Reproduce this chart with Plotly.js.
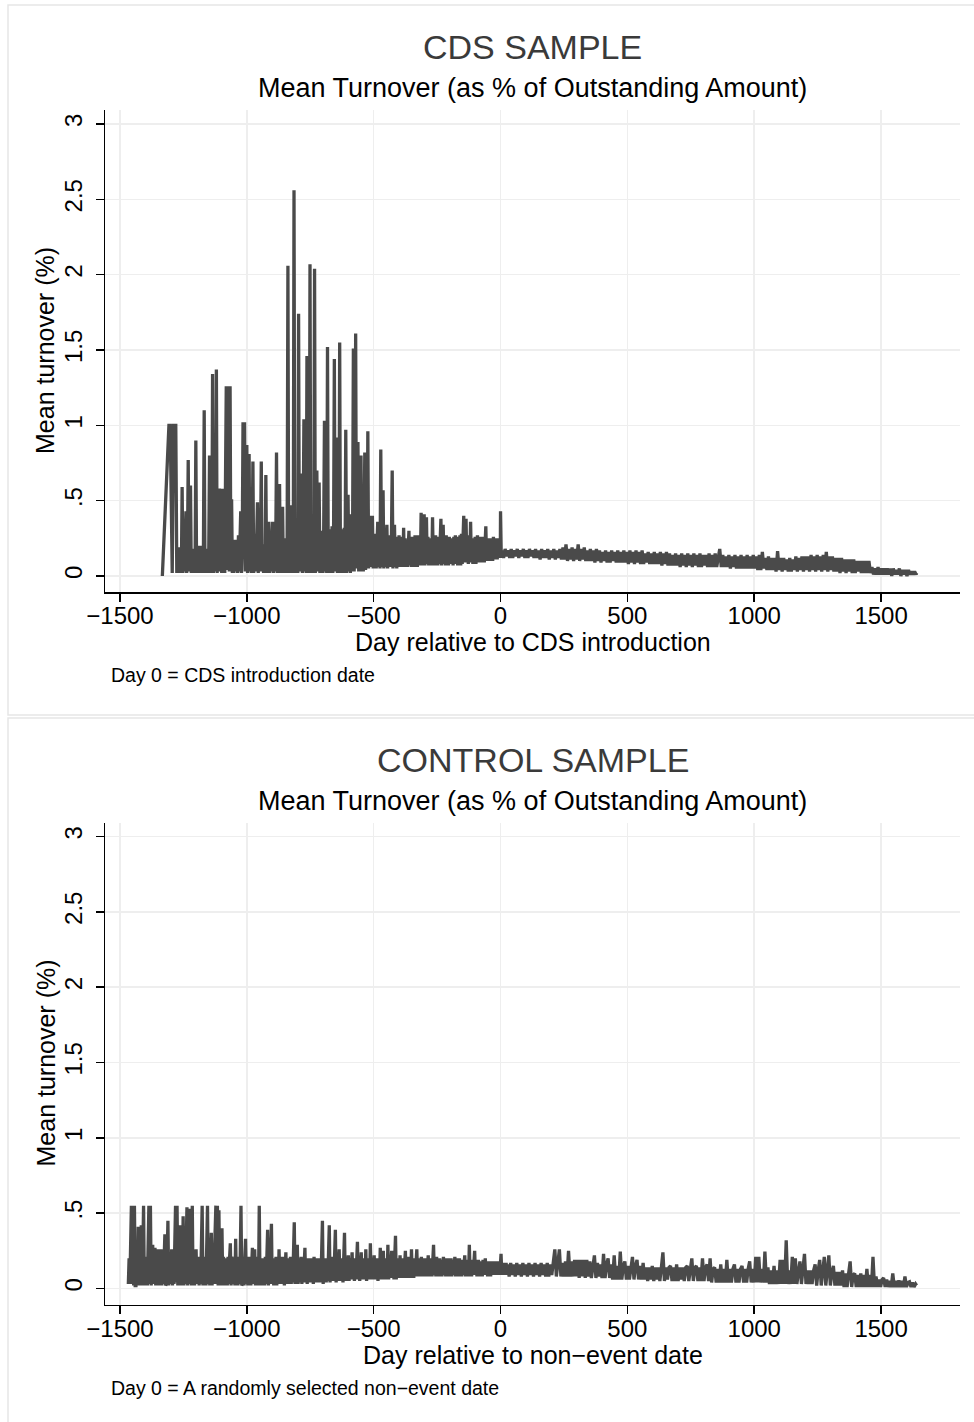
<!DOCTYPE html>
<html><head><meta charset="utf-8">
<script src="https://cdn.plot.ly/plotly-3.0.1.min.js"></script>
<style>html,body{margin:0;padding:0;background:#fff;} #chart{width:974px;height:1422px;}</style>
</head><body><div id="chart"></div>
<script>
// ---- DATA ----
const daysCDS = [
-1333,-1307,-1302,-1298,-1294,-1289,-1280,-1276,
-1273,-1270,-1267,-1264,-1261,-1258,-1255,-1252,-1249,-1246,
-1243,-1240,-1237,-1234,-1231,-1228,-1225,-1222,-1219,-1216,
-1213,-1210,-1207,-1204,-1201,-1198,-1195,-1192,-1189,-1186,
-1183,-1180,-1177,-1174,-1171,-1168,-1165,-1162,-1159,-1156,
-1153,-1150,-1147,-1144,-1141,-1138,-1135,-1132,-1129,-1126,
-1123,-1120,-1117,-1114,-1111,-1108,-1105,-1102,-1099,-1096,
-1093,-1090,-1087,-1084,-1081,-1078,-1075,-1072,-1069,-1066,
-1063,-1060,-1057,-1054,-1051,-1048,-1045,-1042,-1039,-1036,
-1033,-1030,-1027,-1024,-1021,-1018,-1015,-1012,-1009,-1006,
-1003,-1000,-997,-994,-991,-988,-985,-982,-979,-976,
-973,-970,-967,-964,-961,-958,-955,-952,-949,-946,
-943,-940,-937,-934,-931,-928,-925,-922,-919,-916,
-913,-910,-907,-904,-901,-898,-895,-892,-889,-886,
-883,-880,-877,-874,-871,-868,-865,-862,-859,-856,
-853,-850,-847,-844,-841,-838,-835,-832,-829,-826,
-823,-820,-817,-814,-811,-808,-805,-802,-799,-796,
-793,-790,-787,-784,-781,-778,-775,-772,-769,-766,
-763,-760,-757,-754,-751,-748,-745,-742,-739,-736,
-733,-730,-727,-724,-721,-718,-715,-712,-709,-706,
-703,-700,-697,-694,-691,-688,-685,-682,-679,-676,
-673,-670,-667,-664,-661,-658,-655,-652,-649,-646,
-643,-640,-637,-634,-631,-628,-625,-622,-619,-616,
-613,-610,-607,-604,-601,-598,-595,-592,-589,-586,
-583,-580,-577,-574,-571,-568,-565,-562,-559,-556,
-553,-550,-547,-544,-541,-538,-535,-532,-529,-526,
-523,-520,-517,-514,-511,-508,-505,-502,-499,-496,
-493,-490,-487,-484,-481,-478,-475,-472,-469,-466,
-463,-460,-457,-454,-451,-448,-445,-442,-439,-436,
-433,-430,-427,-424,-421,-418,-415,-412,-409,-406,
-403,-400,-397,-394,-391,-388,-385,-382,-379,-376,
-373,-370,-367,-364,-361,-358,-355,-352,-349,-346,
-343,-340,-337,-334,-331,-328,-325,-322,-319,-316,
-313,-310,-307,-304,-301,-298,-295,-292,-289,-286,
-283,-280,-277,-274,-271,-268,-265,-262,-259,-256,
-253,-250,-247,-244,-241,-238,-235,-232,-229,-226,
-223,-220,-217,-214,-211,-208,-205,-202,-199,-196,
-193,-190,-187,-184,-181,-178,-175,-172,-169,-166,
-163,-160,-157,-154,-151,-148,-145,-142,-139,-136,
-133,-130,-127,-124,-121,-118,-115,-112,-109,-106,
-103,-100,-97,-94,-91,-88,-85,-82,-79,-76,
-73,-70,-67,-64,-61,-58,-55,-52,-49,-46,
-43,-40,-37,-34,-31,-28,-25,-22,-19,-16,
-13,-10,-7,-4,-1,0,3,
6,12,18,24,30,36,42,48,54,60,
66,72,78,84,90,96,102,108,114,120,
126,132,138,144,150,156,162,168,174,180,
186,192,198,204,210,216,222,228,234,240,
246,252,258,264,270,276,282,288,294,300,
306,312,318,324,330,336,342,348,354,360,
366,372,378,384,390,396,402,408,414,420,
426,432,438,444,450,456,462,468,474,480,
486,492,498,504,510,516,522,528,534,540,
546,552,558,564,570,576,582,588,594,600,
606,612,618,624,630,636,642,648,654,660,
666,672,678,684,690,696,702,708,714,720,
726,732,738,744,750,756,762,768,774,780,
786,792,798,804,810,816,822,828,834,840,
846,852,858,864,870,876,882,888,894,900,
906,912,918,924,930,936,942,948,954,960,
966,972,978,984,990,996,1002,1008,1014,1020,
1026,1032,1038,1044,1050,1056,1062,1068,1074,1080,
1086,1092,1098,1104,1110,1116,1122,1128,1134,1140,
1146,1152,1158,1164,1170,1176,1182,1188,1194,1200,
1206,1212,1218,1224,1230,1236,1242,1248,1254,1260,
1266,1272,1278,1284,1290,1296,1302,1308,1314,1320,
1326,1332,1338,1344,1350,1356,1362,1368,1374,1380,
1386,1392,1398,1404,1410,1416,1422,1428,1434,1440,
1446,1452,1458,1464,1470,1476,1482,1488,1494,1500,
1506,1512,1518,1524,1530,1536,1542,1548,1554,1560,
1566,1572,1578,1584,1590,1596,1602,1608,1614,1620,
1626,1632,1638,1640
];
const turnoverCDS = [
0,1,1,0.57,0.02,1,1,0.02,
0.17,0.02,0.19,0.03,0.18,0.02,0.59,0.02,0.16,0.03,
0.18,0.43,0.02,0.17,0.77,0.03,0.19,0.6,0.02,0.17,
0.18,0.02,0.17,0.03,0.9,0.02,0.19,0.03,0.2,0.02,
0.2,0.03,0.18,0.02,0.19,1.1,0.02,0.17,0.03,0.18,
0.02,0.16,0.8,0.02,0.18,0.03,1.34,0.02,0.19,0.03,
0.18,1.37,0.02,0.19,0.58,0.58,0.03,0.58,0.02,0.58,
0.03,0.19,0.02,1.26,1.26,0.04,1.26,1.26,0.03,1.26,
0.05,0.51,0.02,0.18,0.02,0.24,0.03,0.2,0.24,0.02,
0.27,0.03,0.19,0.43,0.02,0.2,1.02,0.45,1.02,0.03,
0.19,0.87,0.02,0.18,0.81,0.03,0.2,0.02,0.19,0.76,
0.02,0.2,0.28,0.03,0.19,0.49,0.02,0.21,0.03,0.2,
0.76,0.03,0.21,0.02,0.2,0.03,0.67,0.02,0.22,0.03,
0.36,0.02,0.22,0.03,0.23,0.36,0.02,0.24,0.03,0.22,
0.82,0.02,0.25,0.03,0.61,0.02,0.24,0.03,0.46,0.02,
0.25,0.03,0.24,0.02,0.26,2.06,0.02,0.25,0.03,0.47,
0.02,0.27,0.03,2.56,0.02,0.28,0.03,0.26,0.02,1.74,
0.04,0.28,0.03,0.68,0.02,0.3,1.04,0.03,0.28,0.02,
1.46,0.03,0.3,0.02,2.07,0.03,0.29,0.02,0.3,0.04,
2.04,0.02,0.3,0.7,0.03,0.28,0.62,0.02,0.3,0.03,
0.29,0.02,0.3,1.03,0.03,0.31,0.02,1.52,0.03,0.3,
0.02,0.31,0.03,0.33,0.02,0.3,1.44,0.03,0.28,0.92,
0.02,0.3,0.03,1.55,0.02,0.31,0.03,0.3,0.02,0.32,
0.03,0.97,0.02,0.3,0.54,0.03,0.29,0.02,0.41,0.03,
0.3,1.51,0.03,0.32,1.61,0.05,0.3,0.89,0.03,0.3,
0.03,0.8,0.04,0.29,0.03,0.3,0.82,0.04,0.3,0.05,
0.96,0.05,0.28,0.4,0.06,0.27,0.4,0.05,0.26,0.06,
0.28,0.05,0.26,0.36,0.06,0.27,0.05,0.84,0.06,0.27,
0.57,0.05,0.26,0.06,0.27,0.34,0.05,0.26,0.06,0.27,
0.06,0.25,0.7,0.05,0.26,0.34,0.06,0.25,0.05,0.26,
0.06,0.27,0.07,0.25,0.06,0.26,0.07,0.32,0.06,0.25,
0.07,0.24,0.06,0.26,0.3,0.07,0.25,0.06,0.26,0.07,
0.24,0.06,0.27,0.07,0.25,0.06,0.27,0.07,0.25,0.07,
0.42,0.07,0.26,0.08,0.41,0.07,0.25,0.39,0.08,0.26,
0.07,0.25,0.08,0.24,0.07,0.39,0.08,0.26,0.07,0.27,
0.08,0.25,0.07,0.26,0.08,0.25,0.38,0.07,0.26,0.34,
0.08,0.26,0.07,0.27,0.08,0.25,0.07,0.26,0.08,0.25,
0.08,0.24,0.07,0.26,0.08,0.27,0.08,0.25,0.07,0.26,
0.08,0.27,0.07,0.28,0.08,0.26,0.4,0.09,0.25,0.38,
0.09,0.26,0.08,0.27,0.09,0.36,0.09,0.25,0.08,0.24,
0.09,0.26,0.08,0.25,0.27,0.09,0.25,0.1,0.26,0.09,
0.25,0.1,0.26,0.09,0.25,0.33,0.1,0.24,0.11,0.25,
0.1,0.24,0.11,0.25,0.1,0.26,0.11,0.24,0.12,0.25,
0.11,0.24,0.12,0.25,0.12,0.43,0.12,
0.17,0.12,0.18,0.13,0.17,0.12,0.18,0.12,0.17,0.13,
0.18,0.12,0.17,0.13,0.18,0.12,0.17,0.12,0.18,0.13,
0.17,0.12,0.18,0.12,0.17,0.11,0.18,0.12,0.17,0.12,
0.18,0.11,0.17,0.12,0.18,0.11,0.17,0.12,0.18,0.11,
0.19,0.11,0.21,0.1,0.18,0.11,0.19,0.1,0.18,0.11,
0.21,0.1,0.18,0.11,0.19,0.1,0.17,0.1,0.18,0.1,
0.17,0.09,0.18,0.1,0.17,0.09,0.16,0.1,0.17,0.09,
0.16,0.09,0.17,0.1,0.16,0.09,0.17,0.09,0.16,0.09,
0.17,0.09,0.16,0.08,0.17,0.09,0.16,0.08,0.17,0.09,
0.16,0.08,0.17,0.08,0.15,0.09,0.16,0.08,0.15,0.08,
0.16,0.08,0.15,0.08,0.16,0.07,0.15,0.08,0.16,0.07,
0.15,0.07,0.14,0.07,0.15,0.07,0.14,0.06,0.15,0.07,
0.14,0.06,0.15,0.07,0.14,0.06,0.15,0.07,0.14,0.06,
0.15,0.06,0.14,0.07,0.14,0.06,0.15,0.06,0.14,0.06,
0.15,0.06,0.14,0.18,0.06,0.14,0.06,0.13,0.06,0.14,
0.05,0.13,0.06,0.14,0.05,0.13,0.05,0.14,0.05,0.13,
0.05,0.14,0.05,0.13,0.05,0.14,0.05,0.13,0.04,0.14,
0.04,0.16,0.05,0.12,0.04,0.13,0.04,0.12,0.04,0.12,
0.03,0.165,0.04,0.12,0.03,0.12,0.04,0.11,0.03,0.12,
0.03,0.11,0.04,0.13,0.03,0.12,0.04,0.13,0.03,0.13,
0.04,0.13,0.03,0.14,0.04,0.13,0.03,0.14,0.04,0.13,
0.03,0.14,0.04,0.16,0.03,0.13,0.04,0.13,0.03,0.12,
0.03,0.12,0.02,0.12,0.03,0.11,0.02,0.11,0.03,0.11,
0.02,0.11,0.02,0.1,0.03,0.1,0.02,0.1,0.02,0.1,
0.02,0.1,0.02,0.06,0.01,0.05,0.01,0.06,0.01,0.05,
0.01,0.05,0.01,0.05,0.01,0.05,0,0.05,0.01,0.04,
0.01,0.05,0,0.04,0.01,0.04,0,0.04,0.01,0.03,
0.01,0.03,0.01,0.02
];
const daysControl = [
-1467,-1464,-1461,-1458,-1455,-1452,-1449,-1446,-1443,-1440,
-1437,-1434,-1431,-1428,-1425,-1422,-1419,-1416,-1413,-1410,
-1407,-1404,-1401,-1398,-1395,-1392,-1389,-1386,-1383,-1380,
-1377,-1374,-1371,-1368,-1365,-1362,-1359,-1356,-1353,-1350,
-1347,-1344,-1341,-1338,-1335,-1332,-1329,-1326,-1323,-1320,
-1317,-1314,-1311,-1308,-1305,-1302,-1299,-1296,-1293,-1290,
-1287,-1284,-1281,-1278,-1275,-1272,-1269,-1266,-1263,-1260,
-1257,-1254,-1251,-1248,-1245,-1242,-1239,-1236,-1233,-1230,
-1227,-1224,-1221,-1218,-1215,-1212,-1209,-1206,-1203,-1200,
-1197,-1194,-1191,-1188,-1185,-1182,-1179,-1176,-1173,-1170,
-1167,-1164,-1161,-1158,-1155,-1152,-1149,-1146,-1143,-1140,
-1137,-1134,-1131,-1128,-1125,-1122,-1119,-1116,-1113,-1110,
-1107,-1104,-1101,-1098,-1095,-1092,-1089,-1086,-1083,-1080,
-1077,-1074,-1071,-1068,-1065,-1062,-1059,-1056,-1053,-1050,
-1047,-1044,-1041,-1038,-1035,-1032,-1029,-1026,-1023,-1020,
-1017,-1014,-1011,-1008,-1005,-1002,-999,-996,-993,-990,
-987,-984,-981,-978,-975,-972,-969,-966,-963,-960,
-957,-954,-951,-948,-945,-942,-939,-936,-933,-930,
-927,-924,-921,-918,-915,-912,-909,-906,-903,-900,
-897,-894,-891,-888,-885,-882,-879,-876,-873,-870,
-867,-864,-861,-858,-855,-852,-849,-846,-843,-840,
-837,-834,-831,-828,-825,-822,-819,-816,-813,-810,
-807,-804,-801,-798,-795,-792,-789,-786,-783,-780,
-777,-774,-771,-768,-765,-762,-759,-756,-753,-750,
-747,-744,-741,-738,-735,-732,-729,-726,-723,-720,
-717,-714,-711,-708,-705,-702,-699,-696,-693,-690,
-687,-684,-681,-678,-675,-672,-669,-666,-663,-660,
-657,-654,-651,-648,-645,-642,-639,-636,-633,-630,
-627,-624,-621,-618,-615,-612,-609,-606,-603,-600,
-597,-594,-591,-588,-585,-582,-579,-576,-573,-570,
-567,-564,-561,-558,-555,-552,-549,-546,-543,-540,
-537,-534,-531,-528,-525,-522,-519,-516,-513,-510,
-507,-504,-501,-498,-495,-492,-489,-486,-483,-480,
-477,-474,-471,-468,-465,-462,-459,-456,-453,-450,
-447,-444,-441,-438,-435,-432,-429,-426,-423,-420,
-417,-414,-411,-408,-405,-402,-399,-396,-393,-390,
-387,-384,-381,-378,-375,-372,-369,-366,-363,-360,
-357,-354,-351,-348,-345,-342,-339,-336,-333,-330,
-327,-324,-321,-318,-315,-312,-309,-306,-303,-300,
-297,-294,-291,-288,-285,-282,-279,-276,-273,-270,
-267,-264,-261,-258,-255,-252,-249,-246,-243,-240,
-237,-234,-231,-228,-225,-222,-219,-216,-213,-210,
-207,-204,-201,-198,-195,-192,-189,-186,-183,-180,
-177,-174,-171,-168,-165,-162,-159,-156,-153,-150,
-147,-144,-141,-138,-135,-132,-129,-126,-123,-120,
-117,-114,-111,-108,-105,-102,-99,-96,-93,-90,
-87,-84,-81,-78,-75,-72,-69,-66,-63,-60,
-57,-54,-51,-48,-45,-42,-39,-36,-33,-30,
-27,-24,-21,-18,-15,-12,-9,-6,-3,
0,2,5,8,11,15,18,22,25,
28,34,40,46,52,58,64,70,76,82,
88,94,100,106,112,118,124,130,136,142,
148,154,160,166,172,178,184,190,196,202,
208,214,220,226,232,238,244,250,256,262,
268,274,280,286,292,298,304,310,316,322,
328,334,340,346,352,358,364,370,376,382,
388,394,400,406,412,418,424,430,436,442,
448,454,460,466,472,478,484,490,496,502,
508,514,520,526,532,538,544,550,556,562,
568,574,580,586,592,598,604,610,616,622,
628,634,640,646,652,658,664,670,676,682,
688,694,700,706,712,718,724,730,736,742,
748,754,760,766,772,778,784,790,796,802,
808,814,820,826,832,838,844,850,856,862,
868,874,880,886,892,898,904,910,916,922,
928,934,940,946,952,958,964,970,976,982,
988,994,1000,1006,1012,1018,1024,1030,1036,1042,
1048,1054,1060,1066,1072,1078,1084,1090,1096,1102,
1108,1114,1120,1126,1132,1138,1144,1150,1156,1162,
1168,1174,1180,1186,1192,1198,1204,1210,1216,1222,
1228,1234,1240,1246,1252,1258,1264,1270,1276,1282,
1288,1294,1300,1306,1312,1318,1324,1330,1336,1342,
1348,1354,1360,1366,1372,1378,1384,1390,1396,1402,
1408,1414,1420,1426,1432,1438,1444,1450,1456,1462,
1468,1474,1480,1486,1492,1498,1504,1510,1516,1522,
1528,1534,1540,1546,1552,1558,1564,1570,1576,1582,
1588,1594,1600,1606,1612,1618,1624,1630,1636,1640
];
const turnoverControl = [
0.03,0.2,0.03,0.55,0.55,0.03,0.22,0.02,0.55,0.02,
0.02,0.22,0.03,0.41,0.02,0.2,0.03,0.42,0.02,0.21,
0.55,0.02,0.2,0.03,0.21,0.02,0.55,0.55,0.03,0.55,
0.02,0.2,0.29,0.03,0.21,0.27,0.02,0.2,0.03,0.26,
0.02,0.21,0.03,0.26,0.02,0.2,0.03,0.21,0.36,0.02,
0.03,0.2,0.45,0.02,0.21,0.03,0.2,0.26,0.02,0.21,
0.03,0.55,0.55,0.04,0.55,0.02,0.2,0.03,0.42,0.02,
0.2,0.03,0.48,0.02,0.22,0.03,0.21,0.54,0.02,0.2,
0.53,0.03,0.21,0.02,0.55,0.03,0.2,0.02,0.21,0.26,
0.03,0.2,0.21,0.02,0.2,0.03,0.21,0.55,0.02,0.2,
0.03,0.21,0.02,0.2,0.55,0.03,0.21,0.02,0.2,0.37,
0.02,0.21,0.03,0.2,0.55,0.55,0.03,0.55,0.02,0.52,
0.03,0.2,0.02,0.4,0.03,0.21,0.02,0.2,0.18,0.03,
0.02,0.21,0.03,0.2,0.3,0.02,0.21,0.18,0.03,0.2,
0.02,0.33,0.03,0.21,0.02,0.2,0.03,0.21,0.55,0.02,
0.03,0.21,0.02,0.2,0.33,0.03,0.21,0.02,0.19,0.03,
0.21,0.02,0.2,0.27,0.03,0.21,0.26,0.02,0.2,0.03,
0.21,0.02,0.55,0.03,0.2,0.02,0.19,0.03,0.2,0.02,
0.21,0.03,0.2,0.39,0.02,0.21,0.03,0.2,0.43,0.03,
0.2,0.02,0.19,0.03,0.21,0.02,0.2,0.03,0.26,0.03,
0.21,0.03,0.2,0.03,0.21,0.02,0.2,0.24,0.03,0.19,
0.03,0.2,0.04,0.21,0.03,0.2,0.04,0.19,0.44,0.03,
0.2,0.04,0.29,0.03,0.2,0.04,0.19,0.21,0.03,0.2,
0.04,0.19,0.27,0.04,0.2,0.03,0.19,0.04,0.2,0.04,
0.19,0.04,0.2,0.03,0.21,0.04,0.19,0.04,0.2,0.04,
0.19,0.04,0.2,0.04,0.19,0.45,0.03,0.19,0.04,0.2,
0.04,0.19,0.05,0.2,0.42,0.04,0.19,0.21,0.05,0.19,
0.05,0.2,0.39,0.04,0.19,0.05,0.2,0.26,0.05,0.19,
0.05,0.2,0.04,0.19,0.37,0.05,0.2,0.05,0.19,0.22,
0.05,0.2,0.06,0.19,0.24,0.06,0.2,0.05,0.2,0.06,
0.2,0.31,0.06,0.2,0.05,0.2,0.24,0.06,0.2,0.06,
0.2,0.06,0.26,0.05,0.2,0.06,0.19,0.06,0.3,0.06,
0.2,0.06,0.19,0.22,0.06,0.2,0.06,0.2,0.05,0.19,
0.06,0.27,0.06,0.2,0.06,0.25,0.07,0.2,0.06,0.2,
0.06,0.29,0.06,0.21,0.07,0.2,0.25,0.07,0.2,0.06,
0.2,0.35,0.06,0.2,0.07,0.2,0.07,0.22,0.07,0.2,
0.07,0.2,0.07,0.21,0.25,0.07,0.2,0.07,0.21,0.08,
0.2,0.07,0.26,0.08,0.2,0.07,0.2,0.08,0.19,0.26,
0.08,0.2,0.08,0.19,0.08,0.21,0.08,0.2,0.08,0.19,
0.09,0.2,0.08,0.19,0.22,0.08,0.2,0.09,0.19,0.08,
0.19,0.29,0.09,0.2,0.08,0.21,0.09,0.19,0.08,0.2,
0.09,0.19,0.08,0.2,0.21,0.09,0.19,0.08,0.2,0.09,
0.2,0.08,0.19,0.09,0.2,0.08,0.19,0.09,0.2,0.21,
0.08,0.19,0.09,0.2,0.08,0.2,0.09,0.19,0.08,0.19,
0.09,0.19,0.22,0.08,0.19,0.09,0.19,0.08,0.29,0.09,
0.19,0.08,0.19,0.09,0.19,0.25,0.09,0.19,0.08,0.19,
0.19,0.08,0.18,0.09,0.18,0.08,0.19,0.09,0.18,0.2,
0.09,0.18,0.08,0.18,0.09,0.17,0.08,0.18,0.09,0.17,
0.09,0.18,0.09,0.17,0.09,0.18,0.09,0.17,0.09,
0.17,0.23,0.09,0.17,0.09,0.17,0.09,0.17,0.09,
0.16,0.08,0.17,0.09,0.16,0.08,0.17,0.09,0.16,0.08,
0.17,0.09,0.16,0.08,0.17,0.09,0.16,0.08,0.17,0.09,
0.16,0.08,0.17,0.09,0.16,0.08,0.17,0.08,0.16,0.09,
0.17,0.26,0.08,0.17,0.26,0.08,0.17,0.08,0.18,0.08,
0.25,0.08,0.18,0.08,0.19,0.08,0.19,0.07,0.19,0.08,
0.19,0.07,0.19,0.08,0.18,0.07,0.17,0.22,0.07,0.17,
0.08,0.16,0.07,0.23,0.07,0.16,0.2,0.07,0.16,0.06,
0.22,0.06,0.15,0.06,0.245,0.06,0.15,0.18,0.06,0.15,
0.06,0.15,0.21,0.06,0.15,0.19,0.06,0.15,0.06,0.17,
0.06,0.14,0.05,0.14,0.06,0.15,0.05,0.14,0.06,0.14,
0.05,0.14,0.24,0.05,0.14,0.06,0.14,0.15,0.05,0.14,
0.05,0.16,0.05,0.14,0.06,0.14,0.05,0.14,0.15,0.05,
0.14,0.2,0.05,0.14,0.15,0.05,0.14,0.05,0.2,0.05,
0.14,0.16,0.05,0.2,0.04,0.13,0.14,0.04,0.13,0.04,
0.16,0.04,0.13,0.04,0.19,0.04,0.13,0.04,0.13,0.16,
0.04,0.13,0.04,0.13,0.15,0.04,0.13,0.04,0.13,0.18,
0.04,0.13,0.04,0.21,0.04,0.21,0.04,0.13,0.04,0.245,
0.04,0.14,0.03,0.12,0.03,0.15,0.03,0.12,0.03,0.19,
0.03,0.19,0.03,0.32,0.03,0.12,0.03,0.21,0.03,0.2,
0.03,0.12,0.18,0.03,0.12,0.23,0.03,0.12,0.03,0.12,
0.03,0.12,0.16,0.02,0.12,0.19,0.02,0.12,0.21,0.02,
0.12,0.22,0.02,0.11,0.15,0.02,0.11,0.02,0.11,0.02,
0.12,0.01,0.1,0.01,0.1,0.18,0.01,0.09,0.1,0.01,
0.09,0.01,0.1,0.01,0.09,0.01,0.13,0.01,0.09,0.01,
0.21,0.01,0.08,0.01,0.06,0.01,0.06,0.07,0.01,0.06,
0.01,0.05,0.01,0.1,0.01,0.05,0.01,0.055,0.01,0.05,
0.01,0.08,0.01,0.04,0.045,0.01,0.04,0.01,0.03,0.02
];
const xTickVals = [-1500, -1000, -500, 0, 500, 1000, 1500];
const yTickVals = [0, 0.5, 1, 1.5, 2, 2.5, 3];
const yTickText = ["0", ".5", "1", "1.5", "2", "2.5", "3"];
const panelTitles = ["CDS SAMPLE", "CONTROL SAMPLE"];
const subTitle = "Mean Turnover (as % of Outstanding Amount)";
const xTitles = ["Day relative to CDS introduction", "Day relative to non\u2212event date"];
const notes = ["Day 0 = CDS introduction date", "Day 0 = A randomly selected non\u2212event date"];
const yTitle = "Mean turnover (%)";

// ---- LAYOUT ----
const W = 974, H = 1422;
const px = x => x / W;
const py = y => 1 - y / H;
const FONT = '"Liberation Sans", Arial, Helvetica, sans-serif';
const OFF = 712.5; // vertical offset of the second panel
const LINE = '#4a4a4a', GRID = '#eeeeee';

function xAxis(anchor) {
  return {domain: [px(105), px(960)], range: [-1559, 1811], anchor: anchor,
    tickmode: 'array', tickvals: xTickVals, ticks: 'outside', ticklen: 8, tickwidth: 1.5, tickcolor: '#000',
    ticklabelstandoff: -6,
    showline: true, linecolor: '#000', linewidth: 1.5, showgrid: true, gridcolor: GRID, gridwidth: 1.5,
    zeroline: false, tickfont: {family: FONT, size: 24, color: '#000'}, fixedrange: true};
}
function yAxis(anchor, top) {
  return {domain: [py(top + 482), py(top)], range: [-0.106, 3.093], anchor: anchor,
    tickmode: 'array', tickvals: yTickVals, ticktext: yTickText, tickangle: -90,
    ticks: 'outside', ticklen: 8, tickwidth: 1.5, tickcolor: '#000', ticklabelstandoff: 4,
    showline: true, linecolor: '#000', linewidth: 1.5, showgrid: true, gridcolor: GRID, gridwidth: 1.5,
    zeroline: false, tickfont: {family: FONT, size: 24, color: '#000'}, fixedrange: true};
}

const traces = [
  {type: 'scatter', mode: 'lines', x: daysCDS, y: turnoverCDS, xaxis: 'x', yaxis: 'y',
   line: {color: LINE, width: 3.3}, hoverinfo: 'skip'},
  {type: 'scatter', mode: 'lines', x: daysControl, y: turnoverControl, xaxis: 'x2', yaxis: 'y2',
   line: {color: LINE, width: 3.3}, hoverinfo: 'skip'}
];

const annotations = [];
const shapes = [];
[0, 1].forEach(i => {
  const o = i * OFF;
  const ann = (text, x, y, size, extra) => annotations.push(Object.assign({
    text: text, xref: 'paper', yref: 'paper', x: px(x), y: py(y + o), showarrow: false,
    xanchor: 'center', yanchor: 'middle', font: {family: FONT, size: size, color: '#000'}}, extra || {}));
  ann(panelTitles[i], 532.5, 47, 34, {font: {family: FONT, size: 34, color: '#3a3a3a'}});
  ann(subTitle, 532.5, 88, 27);
  ann(xTitles[i], 532.5, 642, 25);
  ann(notes[i], 109, 675, 19.5, {xanchor: 'left'});
  ann(yTitle, 45, 351, 25, {textangle: -90});
});
shapes.push({type: 'rect', xref: 'paper', yref: 'paper', x0: px(8), x1: px(1000), y0: py(715), y1: py(5),
  line: {color: '#e6e6e6', width: 1.5}, fillcolor: 'rgba(0,0,0,0)', layer: 'below'});
shapes.push({type: 'rect', xref: 'paper', yref: 'paper', x0: px(8), x1: px(1000), y0: py(1450), y1: py(718),
  line: {color: '#e6e6e6', width: 1.5}, fillcolor: 'rgba(0,0,0,0)', layer: 'below'});

const layout = {
  width: W, height: H, margin: {l: 0, r: 0, t: 0, b: 0},
  paper_bgcolor: '#fff', plot_bgcolor: '#fff', showlegend: false,
  font: {family: FONT, color: '#000'},
  xaxis: xAxis('y'), yaxis: yAxis('x', 110),
  xaxis2: xAxis('y2'), yaxis2: yAxis('x2', 110 + OFF),
  annotations: annotations, shapes: shapes
};
Plotly.newPlot('chart', traces, layout, {staticPlot: true, displayModeBar: false});
</script>
</body></html>
